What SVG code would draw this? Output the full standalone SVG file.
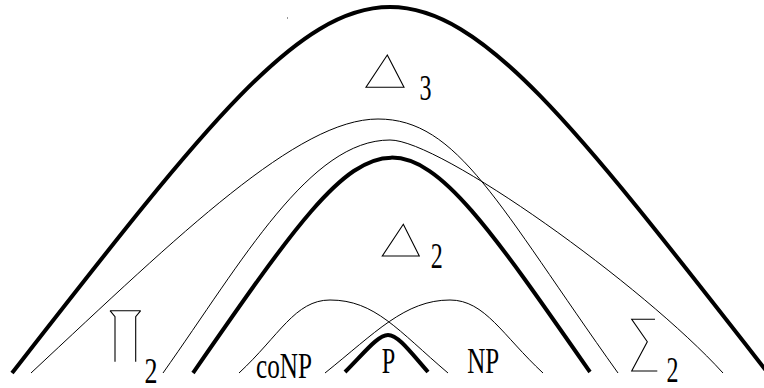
<svg xmlns="http://www.w3.org/2000/svg" width="764" height="388" viewBox="0 0 764 388">
<style>
.thick{fill:none;stroke:#000;stroke-width:4;stroke-linecap:butt}
.thin{fill:none;stroke:#000;stroke-width:1}
.sym{fill:none;stroke:#000;stroke-width:1.1}
.lbl{font-family:"Liberation Serif","Times New Roman",serif;font-size:36px;fill:#000}
</style>
<rect width="764" height="388" fill="#fff"/>
<g id="connectors">
<path id="outer" class="thick" d="M12 373 C393 -115 387 -115 768 373"/>
<path id="curveA" class="thin" d="M31 373 C181 233 298 119 378 119 C458 119 498 205 618 373"/>
<path id="curveB" class="thin" d="M163 373 C243 260 310 140 390 140 C440 140 643 285 723 373"/>
<path id="inner" class="thick" d="M193 373 C392 86 391 86 590 372"/>
<path id="coNPcurve" class="thin" d="M239 373 C279 336 295 300 330 300 C375 300 398 330.5 448 373"/>
<path id="NPcurve" class="thin" d="M325 373 C375 333 405 300 450 300 C485 300 503 336 543 373"/>
<path id="Pcurve" class="thick" d="M345 372 C365 352 378 335 388 335 C398 335 410 351.5 428 372"/>
</g>
<g id="delta3">
<path class="sym" d="M387.3 55 L404 87.3 L366 87.3 Z"/>
<text class="lbl" x="419.5" y="100" textLength="12" lengthAdjust="spacingAndGlyphs">3</text>
</g>
<g id="delta2">
<path class="sym" d="M403.3 224.3 L419.3 256 L382.3 256 Z"/>
<text class="lbl" x="430.7" y="268.3" textLength="12" lengthAdjust="spacingAndGlyphs">2</text>
</g>
<g id="pi2">
<path class="sym" d="M110 310.7 H140.7 M110 310.7 L115 316.7 V361.7 M140.7 310.7 L135.7 316.7 V361.7"/>
<text class="lbl" x="144.5" y="383" textLength="13" lengthAdjust="spacingAndGlyphs">2</text>
</g>
<g id="sigma2">
<path class="sym" d="M655 319.3 H631.7 L647.3 341.7 L631.7 371 H657.3"/>
<text class="lbl" x="666.5" y="381.7" textLength="12" lengthAdjust="spacingAndGlyphs">2</text>
</g>
<g id="coNP">
<text class="lbl" x="256" y="378.3" textLength="56" lengthAdjust="spacingAndGlyphs">coNP</text>
</g>
<g id="P">
<text class="lbl" x="381.7" y="372.7" textLength="13.5" lengthAdjust="spacingAndGlyphs">P</text>
</g>
<g id="NP">
<text class="lbl" x="467.3" y="372.7" textLength="32" lengthAdjust="spacingAndGlyphs">NP</text>
</g>
<rect x="287" y="17" width="1" height="2" fill="#999"/>
</svg>
